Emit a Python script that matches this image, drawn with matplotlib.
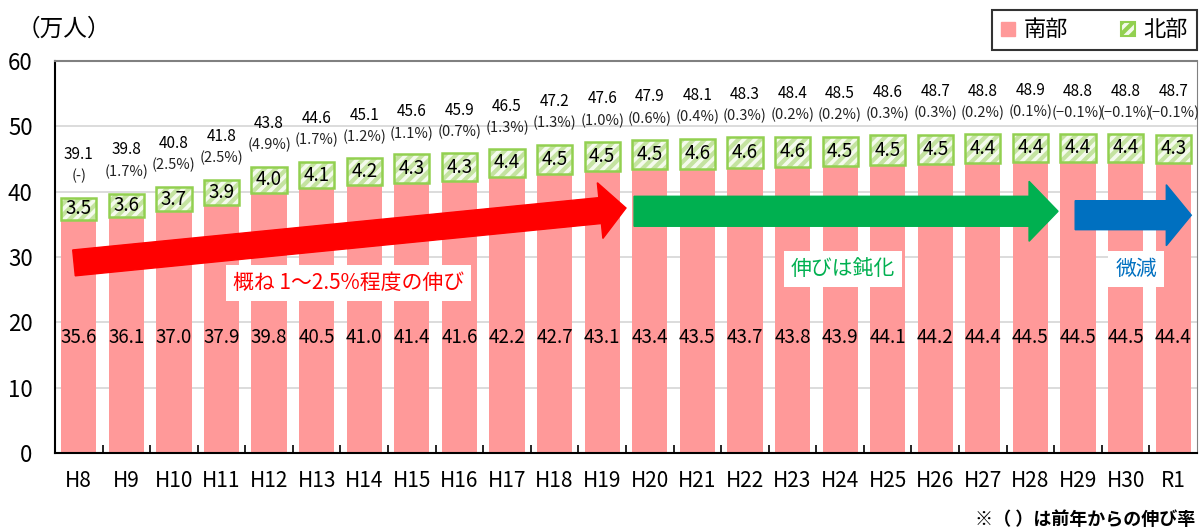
import numpy as np
import matplotlib
matplotlib.use("Agg")
import matplotlib.pyplot as plt
from matplotlib.patches import Polygon, Patch
from matplotlib.transforms import IdentityTransform

plt.rcParams['font.family'] = ['Noto Sans CJK JP', 'DejaVu Sans']
plt.rcParams['hatch.linewidth'] = 3.0

# データ
years = ["H8", "H9", "H10", "H11", "H12", "H13", "H14", "H15", "H16", "H17", "H18", "H19",
         "H20", "H21", "H22", "H23", "H24", "H25", "H26", "H27", "H28", "H29", "H30", "R1"]
south = [35.6, 36.1, 37.0, 37.9, 39.8, 40.5, 41.0, 41.4, 41.6, 42.2, 42.7, 43.1,
         43.4, 43.5, 43.7, 43.8, 43.9, 44.1, 44.2, 44.4, 44.5, 44.5, 44.5, 44.4]
north = [3.5, 3.6, 3.7, 3.9, 4.0, 4.1, 4.2, 4.3, 4.3, 4.4, 4.5, 4.5,
         4.5, 4.6, 4.6, 4.6, 4.5, 4.5, 4.5, 4.4, 4.4, 4.4, 4.4, 4.3]
total = [39.1, 39.8, 40.8, 41.8, 43.8, 44.6, 45.1, 45.6, 45.9, 46.5, 47.2, 47.6,
         47.9, 48.1, 48.3, 48.4, 48.5, 48.6, 48.7, 48.8, 48.9, 48.8, 48.8, 48.7]
growth = ["(-)", "(1.7%)", "(2.5%)", "(2.5%)", "(4.9%)", "(1.7%)", "(1.2%)", "(1.1%)",
          "(0.7%)", "(1.3%)", "(1.3%)", "(1.0%)", "(0.6%)", "(0.4%)", "(0.3%)", "(0.2%)",
          "(0.2%)", "(0.3%)", "(0.3%)", "(0.2%)", "(0.1%)", "(−0.1%)", "(−0.1%)", "(−0.1%)"]

PINK = "#FF9999"
GREEN_EDGE = "#92D050"
GREEN_HATCH = "#C4E3A0"

fig = plt.figure(figsize=(12, 5.32), dpi=100)
ax = fig.add_axes([0.0458, 0.1485, 0.9517, 0.7368])

x = np.arange(len(years))
w = 0.74
ax.bar(x, south, w, color=PINK, zorder=2)
ax.bar(x, north, w, bottom=south, color="#F4FAEC", edgecolor=GREEN_HATCH,
       hatch="///", linewidth=0, zorder=2)
ax.bar(x, north, w, bottom=south, fill=False, edgecolor=GREEN_EDGE, linewidth=1.8, zorder=3)

ax.set_xlim(-0.5, len(years) - 0.5)
ax.set_ylim(0, 60)
ax.set_yticks(range(0, 61, 10))
ax.set_xticks(x)
ax.set_xticklabels(years, fontsize=15)
ax.set_xticks(x[:-1] + 0.5, minor=True)
ax.tick_params(axis="x", which="major", length=0, pad=12)
ax.tick_params(axis="x", which="minor", direction="in", length=6, width=1.2, color="black")
ax.tick_params(axis="y", length=0, labelsize=16, pad=16)
for yv in range(10, 60, 10):
    ax.axhline(yv, color="#D9D9D9", lw=1.3, zorder=1)
ax.spines["left"].set_color("black")
ax.spines["bottom"].set_color("black")
ax.spines["left"].set_linewidth(1.5)
ax.spines["bottom"].set_linewidth(1.5)
ax.spines["top"].set_color("#808080")
ax.spines["right"].set_color("#808080")
ax.spines["top"].set_linewidth(1.5)

# 値ラベル
for i in x:
    ax.text(i, 17.7, f"{south[i]:.1f}", ha="center", va="center", fontsize=13.5, zorder=6)
    ax.text(i, south[i] + north[i] / 2, f"{north[i]:.1f}", ha="center", va="center",
            fontsize=13.5, zorder=6)
    ax.text(i, total[i] + 6.6, f"{total[i]:.1f}", ha="center", va="center", fontsize=11)
    ax.text(i, total[i] + 3.3, growth[i], ha="center", va="center", fontsize=10.5, color="#222222")

# 矢印 (データ座標で位置、ピクセルで太さ)
def arrow(x0, y0, x1, y1, shaft, head, head_len, color):
    p0 = ax.transData.transform((x0, y0))
    p1 = ax.transData.transform((x1, y1))
    d = p1 - p0
    L = np.hypot(*d)
    u = d / L
    n = np.array([-u[1], u[0]])
    b = p1 - u * head_len
    pts = [p0 + n * shaft / 2, b + n * shaft / 2, b + n * head / 2, p1,
           b - n * head / 2, b - n * shaft / 2, p0 - n * shaft / 2]
    fig.patches.append(Polygon(pts, closed=True, color=color, transform=IdentityTransform(),
                               figure=fig, zorder=5))

arrows = [
    (-0.1, 29.1, 11.5, 37.5, 26, 56, 26, "#FF0000"),
    (11.67, 37.0, 20.58, 37.0, 30, 60, 29, "#00B050"),
    (20.94, 36.4, 23.38, 36.4, 29, 61, 25, "#0070C0"),
]
for a in arrows:
    arrow(*a)

box = dict(facecolor="white", edgecolor="none", pad=5)
ax.text(5.66, 26.0, "概ね 1～2.5%程度の伸び", color="#FF0000", fontsize=15,
        ha="center", va="center", bbox=box, zorder=7)
ax.text(16.06, 28.2, "伸びは鈍化", color="#00B050", fontsize=15,
        ha="center", va="center", bbox=box, zorder=7)
ax.text(22.22, 28.2, "微減", color="#0070C0", fontsize=15,
        ha="center", va="center", bbox=box, zorder=7)

fig.text(0.014, 0.945, "（万人）", fontsize=17, ha="left", va="center")
fig.text(0.996, 0.024, "※（ ）は前年からの伸び率", fontsize=13, ha="right", va="center",
         fontweight="bold")

handles = [Patch(facecolor=PINK, edgecolor=PINK, label="南部"),
           Patch(facecolor="#F4FAEC", edgecolor=GREEN_EDGE, hatch="///", linewidth=1.5, label="北部")]
leg = fig.legend(handles=handles, loc="upper right", bbox_to_anchor=(0.9975, 0.982), ncol=2,
                 fontsize=16, frameon=True, fancybox=False, edgecolor="black",
                 handlelength=0.6, handleheight=0.6, handletextpad=0.4, columnspacing=2.4,
                 borderpad=0.4, borderaxespad=0)
leg.get_frame().set_linewidth(1.5)

fig.savefig("out.png", dpi=100)
